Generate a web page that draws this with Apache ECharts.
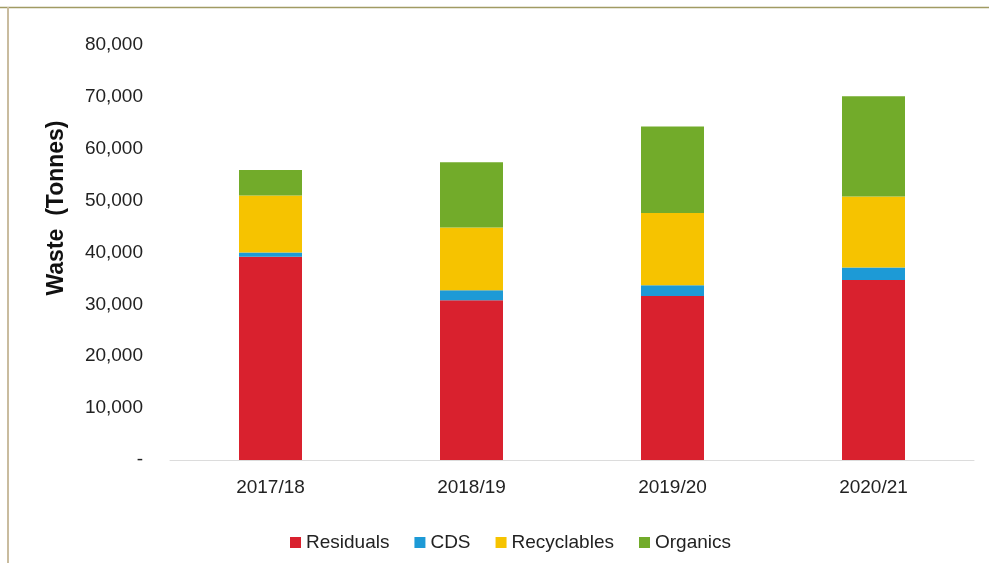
<!DOCTYPE html>
<html>
<head>
<meta charset="utf-8">
<script src="https://cdn.jsdelivr.net/npm/echarts@6/dist/echarts.min.js"></script>
<style>
  html, body { margin: 0; padding: 0; background: #ffffff; }
  #chartWaste { width: 989px; height: 563px; }
</style>
</head>
<body>
<div id="chartWaste"></div>
<script>
// 年度
const years = ['2017/18', '2018/19', '2019/20', '2020/21'];
// tonnes per stream
const residuals = [39200, 30800, 31600, 34700];
const cds = [800, 1900, 2100, 2400];
const recyclables = [11000, 12100, 13900, 13700];
const organics = [4900, 12600, 16700, 19300];

const chartWaste = echarts.init(document.getElementById('chartWaste'));

function barSeries(name, data, color) {
  return {
    name: name,
    type: 'bar',
    stack: 'waste',
    barWidth: 63,
    itemStyle: { color: color },
    data: data
  };
}

const option = {
  animation: false,
  textStyle: {
    fontFamily: 'Liberation Sans'
  },
  grid: {
    left: 170,
    right: 15,
    top: 45,
    bottom: 103
  },
  graphic: [
    // frame lines
    { type: 'line', shape: { x1: 0, y1: 7.5, x2: 989, y2: 7.5 }, style: { stroke: '#a19b63', lineWidth: 1.5 } },
    { type: 'line', shape: { x1: 8, y1: 7, x2: 8, y2: 563 }, style: { stroke: '#c9bc9f', lineWidth: 2 } },
    {
      type: 'text',
      x: 57,
      y: 208,
      rotation: Math.PI / 2,
      style: {
        text: 'Waste  (Tonnes)',
        font: 'bold 23px "Liberation Sans"',
        fill: '#111111',
        align: 'center',
        verticalAlign: 'middle'
      }
    }
  ],
  legend: {
    left: 285,
    top: 528,
    itemWidth: 11,
    itemHeight: 11,
    itemGap: 25,
    icon: 'rect',
    textStyle: {
      fontSize: 19,
      color: '#222222'
    },
    data: ['Residuals', 'CDS', 'Recyclables', 'Organics']
  },
  xAxis: {
    type: 'category',
    data: years,
    axisLine: { lineStyle: { color: '#dcdcdc' } },
    axisTick: { show: false },
    axisLabel: {
      color: '#222222',
      fontSize: 19,
      margin: 18
    }
  },
  yAxis: {
    type: 'value',
    min: 0,
    max: 80000,
    interval: 10000,
    axisLine: { show: false },
    axisTick: { show: false },
    splitLine: { show: false },
    axisLabel: {
      color: '#222222',
      fontSize: 19,
      margin: 27,
      formatter: function (v) {
        return v === 0 ? '-' : v.toLocaleString('en-US');
      }
    }
  },
  series: [
    barSeries('Residuals', residuals, '#d9212e'),
    barSeries('CDS', cds, '#1d9ad6'),
    barSeries('Recyclables', recyclables, '#f6c300'),
    barSeries('Organics', organics, '#72ab2a')
  ]
};

chartWaste.setOption(option);
</script>
</body>
</html>
